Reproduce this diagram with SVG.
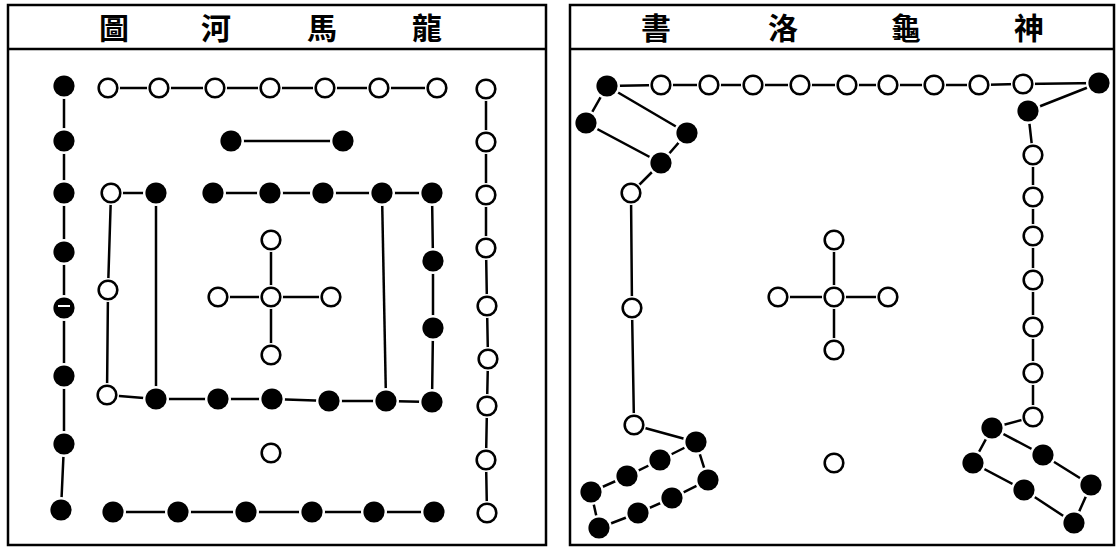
<svg xmlns="http://www.w3.org/2000/svg" width="1118" height="550" viewBox="0 0 1118 550">
<style>
.frame{fill:none;stroke:#000;stroke-width:2.5}
.ln{stroke:#000;stroke-width:2.5;fill:none;stroke-linecap:butt}
.t{font-family:"Noto Sans CJK TC","Noto Sans CJK SC",sans-serif;font-weight:bold;font-size:30px;text-anchor:middle;fill:#000}
</style>
<defs>
<g id="oc"><circle r="12" fill="#fff"/><circle r="9.3" fill="#fff" stroke="#000" stroke-width="2.6"/></g>
<g id="bc"><circle r="13" fill="#fff"/><circle r="10.6" fill="#000"/></g>
</defs>
<rect width="1118" height="550" fill="#fff"/>
<g id="frame-left">
<rect class="frame" x="8" y="5" width="538" height="540"/>
<line class="frame" x1="8" y1="49" x2="546" y2="49"/>
<text class="t" x="114" y="39">圖</text>
<text class="t" x="216" y="39">河</text>
<text class="t" x="322" y="39">馬</text>
<text class="t" x="427" y="39">龍</text>
</g>
<g id="frame-right">
<rect class="frame" x="570" y="5" width="544" height="540"/>
<line class="frame" x1="570" y1="49" x2="1114" y2="49"/>
<text class="t" x="656" y="39">書</text>
<text class="t" x="783" y="39">洛</text>
<text class="t" x="906" y="39">龜</text>
<text class="t" x="1029" y="39">神</text>
</g>
<g id="connectors">
<polyline class="ln" points="64,86 64,141 64,193 64,252 64,308 64,376 64,444 61,510"/>
<polyline class="ln" points="108,88 159,88 215,88 270,88 325,88 379,88 437,88"/>
<polyline class="ln" points="486,89 486,142 486,195 486,248 487,306 488,359 487,406 486,460 487,513"/>
<line class="ln" x1="231" y1="141" x2="343" y2="141"/>
<line class="ln" x1="111" y1="193" x2="156" y2="193"/>
<polyline class="ln" points="213,193 270,193 323,193 382,193 432,193"/>
<polyline class="ln" points="111,193 108,290 107,395"/>
<line class="ln" x1="156" y1="193" x2="156" y2="399"/>
<polyline class="ln" points="107,395 156,399 218,399 272,399 329,401 386,401 432,402"/>
<line class="ln" x1="382" y1="193" x2="386" y2="401"/>
<polyline class="ln" points="432,193 433,261 433,328 432,402"/>
<line class="ln" x1="218" y1="297" x2="331" y2="297"/>
<line class="ln" x1="271" y1="240" x2="271" y2="355"/>
<polyline class="ln" points="113,512 178,512 246,512 312,512 374,512 434,512"/>
<polyline class="ln" points="607,86 661,85 709,85 753,85 800,85 847,85 888,85 934,85 979,85 1023,84 1099,83 1028,111"/>
<polygon class="ln" points="607,86 687,133 661,163 586,123"/>
<polyline class="ln" points="661,163 631,193 632,308 634,425 696,442"/>
<polygon class="ln" points="696,442 660,460 627,476 591,492 599,528 638,513 672,498 708,480"/>
<line class="ln" x1="778" y1="297" x2="888" y2="297"/>
<line class="ln" x1="834" y1="240" x2="834" y2="350"/>
<polyline class="ln" points="1028,111 1033,155 1033,197 1033,236 1033,280 1033,327 1033,373 1033,417 992,428"/>
<polygon class="ln" points="992,428 1043,455 1091,485 1074,523 1024,490 973,463"/>
</g>
<g id="nodes-left">
<use href="#bc" x="64" y="86"/>
<use href="#bc" x="64" y="141"/>
<use href="#bc" x="64" y="193"/>
<use href="#bc" x="64" y="252"/>
<use href="#bc" x="64" y="308"/>
<line x1="58" y1="306" x2="70" y2="306" stroke="#fff" stroke-width="2"/>
<use href="#bc" x="64" y="376"/>
<use href="#bc" x="64" y="444"/>
<use href="#bc" x="61" y="510"/>
<use href="#oc" x="108" y="88"/>
<use href="#oc" x="159" y="88"/>
<use href="#oc" x="215" y="88"/>
<use href="#oc" x="270" y="88"/>
<use href="#oc" x="325" y="88"/>
<use href="#oc" x="379" y="88"/>
<use href="#oc" x="437" y="88"/>
<use href="#oc" x="486" y="89"/>
<use href="#oc" x="486" y="142"/>
<use href="#oc" x="486" y="195"/>
<use href="#oc" x="486" y="248"/>
<use href="#oc" x="487" y="306"/>
<use href="#oc" x="488" y="359"/>
<use href="#oc" x="487" y="406"/>
<use href="#oc" x="486" y="460"/>
<use href="#oc" x="487" y="513"/>
<use href="#bc" x="231" y="141"/>
<use href="#bc" x="343" y="141"/>
<use href="#oc" x="111" y="193"/>
<use href="#bc" x="156" y="193"/>
<use href="#bc" x="213" y="193"/>
<use href="#bc" x="270" y="193"/>
<use href="#bc" x="323" y="193"/>
<use href="#bc" x="382" y="193"/>
<use href="#bc" x="432" y="193"/>
<use href="#oc" x="108" y="290"/>
<use href="#bc" x="433" y="261"/>
<use href="#bc" x="433" y="328"/>
<use href="#oc" x="107" y="395"/>
<use href="#bc" x="156" y="399"/>
<use href="#bc" x="218" y="399"/>
<use href="#bc" x="272" y="399"/>
<use href="#bc" x="329" y="401"/>
<use href="#bc" x="386" y="401"/>
<use href="#bc" x="432" y="402"/>
<use href="#oc" x="271" y="240"/>
<use href="#oc" x="218" y="297"/>
<use href="#oc" x="271" y="297"/>
<use href="#oc" x="331" y="297"/>
<use href="#oc" x="271" y="355"/>
<use href="#oc" x="271" y="453"/>
<use href="#bc" x="113" y="512"/>
<use href="#bc" x="178" y="512"/>
<use href="#bc" x="246" y="512"/>
<use href="#bc" x="312" y="512"/>
<use href="#bc" x="374" y="512"/>
<use href="#bc" x="434" y="512"/>
</g>
<g id="nodes-right">
<use href="#bc" x="607" y="86"/>
<use href="#oc" x="661" y="85"/>
<use href="#oc" x="709" y="85"/>
<use href="#oc" x="753" y="85"/>
<use href="#oc" x="800" y="85"/>
<use href="#oc" x="847" y="85"/>
<use href="#oc" x="888" y="85"/>
<use href="#oc" x="934" y="85"/>
<use href="#oc" x="979" y="85"/>
<use href="#oc" x="1023" y="84"/>
<use href="#bc" x="1099" y="83"/>
<use href="#bc" x="1028" y="111"/>
<use href="#bc" x="586" y="123"/>
<use href="#bc" x="687" y="133"/>
<use href="#bc" x="661" y="163"/>
<use href="#oc" x="631" y="193"/>
<use href="#oc" x="632" y="308"/>
<use href="#oc" x="634" y="425"/>
<use href="#bc" x="696" y="442"/>
<use href="#bc" x="660" y="460"/>
<use href="#bc" x="627" y="476"/>
<use href="#bc" x="591" y="492"/>
<use href="#bc" x="599" y="528"/>
<use href="#bc" x="638" y="513"/>
<use href="#bc" x="672" y="498"/>
<use href="#bc" x="708" y="480"/>
<use href="#oc" x="834" y="240"/>
<use href="#oc" x="778" y="297"/>
<use href="#oc" x="834" y="297"/>
<use href="#oc" x="888" y="297"/>
<use href="#oc" x="834" y="350"/>
<use href="#oc" x="834" y="463"/>
<use href="#oc" x="1033" y="155"/>
<use href="#oc" x="1033" y="197"/>
<use href="#oc" x="1033" y="236"/>
<use href="#oc" x="1033" y="280"/>
<use href="#oc" x="1033" y="327"/>
<use href="#oc" x="1033" y="373"/>
<use href="#oc" x="1033" y="417"/>
<use href="#bc" x="992" y="428"/>
<use href="#bc" x="973" y="463"/>
<use href="#bc" x="1043" y="455"/>
<use href="#bc" x="1091" y="485"/>
<use href="#bc" x="1024" y="490"/>
<use href="#bc" x="1074" y="523"/>
</g>
</svg>
